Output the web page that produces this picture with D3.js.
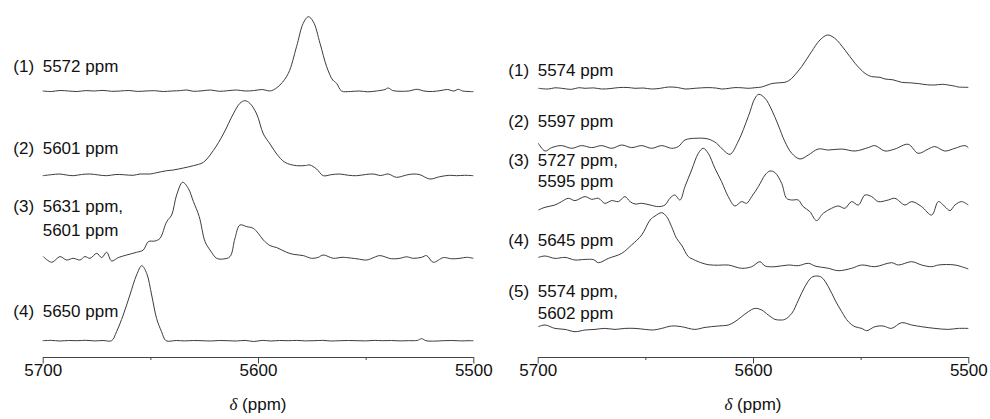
<!DOCTYPE html>
<html><head><meta charset="utf-8">
<script src="https://cdn.jsdelivr.net/npm/d3@7"></script>
<style>body{margin:0;background:#fff}svg{display:block}</style>
</head><body><svg id="c" width="990" height="419"></svg>
<script>
// ---------- DATA: [ppm, intensity (a.u.)] ----------
const traceL1 = [[5700,0],[5696,-0.5],[5692,0.5],[5688,0],[5684,-0.5],[5680,0.4],[5676,0],[5672,0.6],[5668,-0.3],[5664,0],[5660,0.5],[5656,-0.4],[5652,0],[5648,0.3],[5644,-0.5],[5640,0],[5636,0.4],[5633,1],[5630,-0.3],[5626,0.2],[5622,1],[5618,-0.3],[5614,0.3],[5610,1],[5606,0],[5602,0.4],[5598,1.5],[5595.5,0.3],[5593.7,0.3],[5589.8,6],[5585.9,17.7],[5582.1,44.3],[5579,67.7],[5576.6,74.3],[5574.3,69.3],[5571.2,47.7],[5568.1,24.3],[5565.3,11],[5563.5,7.7],[5561.2,0],[5557,-0.5],[5553,0],[5549,-0.8],[5545,0],[5541,1.5],[5539.5,3],[5537.5,0.5],[5534,-0.3],[5530,0],[5526,1.7],[5523,0],[5519,-0.5],[5515,0.5],[5512,1.5],[5509,0],[5507,1.7],[5505,0],[5502,-0.5],[5500,-0.7]];
const traceL2 = [[5700,-0.7],[5696,0.3],[5692,1],[5689,0],[5685.8,-0.7],[5682,0.5],[5678,1],[5674,0],[5670.3,-0.7],[5666,0.5],[5662.5,0.3],[5658,-0.3],[5654.8,1],[5650.1,1],[5647.1,2.3],[5642.4,4.3],[5639.3,5],[5634.7,7],[5630,9.3],[5625.4,12.7],[5620.8,24.3],[5616.1,41],[5611.5,61],[5608.4,71.7],[5606.1,74.3],[5603.8,71.7],[5600.6,61],[5597.5,41],[5594.4,31],[5591.3,21],[5587.5,12.7],[5582.1,9.3],[5578,9.5],[5575.9,10],[5572.8,6],[5569.7,-0.7],[5566,0.3],[5562,1],[5558,-0.3],[5554.2,-0.7],[5550,0.5],[5546.5,1],[5543,-0.5],[5539.5,1],[5535.7,-2.3],[5531,0],[5528,1],[5524.8,0.3],[5520.2,-4],[5515.6,-1.7],[5511,-0.3],[5507.8,-0.7],[5504,-0.3],[5500,-0.7]];
const traceL3 = [[5699.7,1.7],[5695.8,-4],[5692,1.7],[5688.9,-1.7],[5685.8,0],[5682.7,-1.7],[5680.4,1.7],[5678,0],[5674.9,5],[5672.6,0.7],[5670.3,6],[5668,-2.7],[5664.9,0.7],[5661,3.3],[5656.4,6],[5653.3,8.3],[5650.9,16.7],[5647.8,17.3],[5645.5,20],[5642.4,36.7],[5640.1,43.3],[5637.8,63.3],[5635,76],[5632.4,70],[5630,56.7],[5627.3,41.7],[5624.6,16.7],[5622.3,8.3],[5619.2,0],[5616.1,-0.7],[5613,1.7],[5610.7,20],[5608.4,33.3],[5605.3,31.7],[5602.2,30],[5599.9,25],[5597.5,18.3],[5594.4,12.7],[5591.3,10.7],[5586.7,6],[5583.6,4],[5579,2.7],[5575.1,0],[5572,1],[5569.7,3.3],[5565,0],[5561,1],[5558.8,0.7],[5554,-0.5],[5549.5,-1.7],[5546,1],[5543.4,2.7],[5538,-0.5],[5534.1,0],[5531,1.5],[5527.9,0],[5524,1],[5521.7,2.7],[5518.6,-4],[5513.9,0.7],[5510,-0.5],[5506.2,0],[5503,1],[5500,0]];
const traceL4 = [[5700,0],[5696,0.3],[5692,-0.3],[5688,0.2],[5684,0],[5680,0.4],[5676,-0.2],[5672,0.2],[5668,0],[5665.7,9],[5662.6,25.7],[5659.5,45.7],[5656.4,65.7],[5654,75],[5651.7,67.3],[5649.4,45.7],[5647.1,22.3],[5644.8,9],[5642.7,0],[5638,0.2],[5634,-0.2],[5630,0.2],[5626,0],[5622,-0.3],[5618,0.2],[5614,0],[5610,-0.3],[5606,0.3],[5602,-0.8],[5598,0.3],[5594,-0.3],[5590,0.2],[5586,0],[5582,0.3],[5578,-0.2],[5574,0],[5570,0.3],[5566,-0.3],[5562,0],[5558,0.2],[5554,0],[5550,-0.2],[5546,0.3],[5542,0],[5538,0.2],[5534,-0.2],[5530,0],[5526,0.3],[5524,2],[5522,0],[5518,-0.4],[5514,0],[5510,0.2],[5506,-0.2],[5502,0],[5500,0]];

const traceR1 = [[5699.7,0],[5695.1,-0.7],[5692,0.5],[5688.9,0],[5684.2,-1],[5681,0.6],[5678,0],[5674,0.4],[5670.3,-0.7],[5666,-0.2],[5662.5,0.7],[5658,0.8],[5654.8,0],[5651,0.3],[5647.1,-0.7],[5643,0],[5639.3,1.3],[5635,0.8],[5631.6,-0.7],[5627,0],[5620.8,0.7],[5617,0.2],[5614.6,-0.7],[5611,0],[5608.4,0.7],[5605,0.5],[5602.2,0],[5599,0.6],[5596,1.3],[5593,3.5],[5591.3,4.7],[5588,5.5],[5585.2,6],[5583.5,7.5],[5582,10],[5577.4,21.7],[5572.8,36.7],[5568.9,48.3],[5565.4,53.3],[5562,50],[5557.3,38.3],[5552.6,25],[5548,15],[5544.9,11.7],[5541,11],[5538.7,9.3],[5535,8.5],[5531,6],[5527,5.5],[5523.2,4.7],[5519,3.5],[5515.5,3.3],[5512,4],[5509.3,3.3],[5506,2],[5504.7,1.3],[5500,1]];
const traceR2 = [[5699.7,5],[5696.6,-2.7],[5693.5,0.7],[5688.9,2.7],[5684.2,0],[5679.6,2.7],[5674.9,0.7],[5670.3,2.7],[5665.6,0],[5661,3.3],[5656.4,0.7],[5651.7,2.7],[5647.1,0],[5642.4,2.7],[5637.8,0],[5634.7,1.7],[5631.6,8.3],[5627,10],[5620.8,9.3],[5616.9,5],[5613.8,-1.7],[5610.7,-6],[5606.9,6.7],[5602.2,31.7],[5599.1,50],[5597.3,54],[5594.4,50],[5591.3,38.3],[5588.3,23.3],[5585.2,6.7],[5582,-5],[5578.2,-10.7],[5574.3,-6.7],[5569.7,-0.7],[5565,-1.7],[5558.8,-0.7],[5552.6,-2.7],[5546.5,0.7],[5543.4,2.7],[5538.7,-2.7],[5534.1,-0.7],[5527.9,4],[5523.3,-5],[5518.6,-0.7],[5515.5,1.7],[5510.9,-2.7],[5506.2,0],[5501.6,2.7],[5500,0.7]];
const traceR3 = [[5699.7,-1.7],[5696.6,1],[5692,3.3],[5688.9,6.7],[5685.8,10],[5682.7,7.7],[5678,11.7],[5674.9,9],[5671.8,10],[5668.8,5],[5665.6,7.7],[5662.5,6.7],[5659.5,11.7],[5657.1,6.7],[5654.8,4.3],[5651.7,5],[5647.8,3.3],[5644,1.7],[5640.9,3.3],[5638.6,10],[5636.3,13.3],[5633.9,8.3],[5631.6,21.7],[5628.5,38.3],[5625.4,55],[5623.1,60],[5620.8,55],[5617.7,40],[5614.6,26.7],[5611.5,11.7],[5608.4,2.3],[5605.3,6.7],[5603,5],[5600.6,11.7],[5597.5,21.7],[5594.4,33.3],[5592.1,37.3],[5589.8,35.7],[5586.7,25],[5584.4,10],[5582.1,8.3],[5579,8.3],[5576.7,1.7],[5573.6,-3.3],[5570.5,-12.3],[5567.4,-5],[5563.5,0],[5560.4,2.3],[5557.3,0],[5554.2,6.7],[5551.1,3.3],[5548,13.3],[5544.9,11.7],[5541.8,6.7],[5537.2,8.3],[5534.1,10],[5529.4,3.3],[5526.3,6.7],[5521.7,1.7],[5517,-6.7],[5513.9,6.7],[5510.9,1.7],[5508.5,-2.3],[5506.2,3.3],[5503.1,6.7],[5500,3.3]];
const traceR4 = [[5699.7,-0.7],[5696.6,0.7],[5692,-1.7],[5687.3,-0.7],[5682.7,-3.3],[5678,-2.7],[5674,-3],[5671.8,-6],[5667.2,-1.7],[5661,3.3],[5656.4,11.7],[5651.7,21.7],[5647.8,36.7],[5645.5,40.7],[5642.4,44],[5640.1,40],[5637.8,30],[5635.5,18.3],[5633.2,11.7],[5630,0],[5627.7,-2.7],[5625.4,-5],[5620.8,-8],[5616,-8.5],[5611.5,-8.3],[5605.3,-11.6],[5600.6,-10],[5596.8,-5],[5594.4,-9.3],[5589.8,-10],[5583.6,-8.3],[5579,-9],[5574.3,-6.6],[5571.2,-9.3],[5565,-11.6],[5560.4,-14],[5554.2,-11.6],[5549.5,-8.3],[5543.4,-10],[5535.6,-6],[5532.5,-8.3],[5526.3,-5],[5521.7,-8.3],[5517,-10],[5513.9,-8.3],[5506.2,-8.3],[5500,-12.3]];
const traceR5 = [[5699.7,0],[5696.6,1.7],[5692,-1.7],[5687.3,-2.7],[5682.7,-5],[5678,-3.3],[5673.4,-2.7],[5668.8,-1.7],[5664.1,-2.7],[5659.5,-1.7],[5654.8,-1.7],[5650.1,-2.7],[5646.3,-3.3],[5642.4,-1.7],[5637.8,0.7],[5633.2,0],[5627,-2.7],[5622.3,-0.7],[5616.1,0.7],[5611.5,1.7],[5608.4,5],[5605.3,10],[5602.2,15],[5599.1,18.3],[5596,16.7],[5592.9,11.7],[5589.8,7.3],[5587.5,6.7],[5585.2,7.3],[5582,13.3],[5578.9,26.7],[5575.9,40],[5572.8,49.3],[5570.4,50.7],[5568.1,49.3],[5565,40],[5561.9,26.7],[5558.8,15],[5555.7,5],[5552.6,0],[5549.5,-1.7],[5547.2,-4],[5543.4,0],[5539.5,0.7],[5535.7,-1.7],[5531,4],[5526.3,1.7],[5521.7,0],[5515.5,-1.7],[5509.3,-2.7],[5504.7,-1.7],[5500,-1.7]];

const leftOffsets = [266, 182, 98.7, 16.3];
const rightOffsets = [268.7, 208.7, 148.7, 100.3, 30.3];
const leftLabels = [["(1)","5572 ppm"],["(2)","5601 ppm"],["(3)","5631 ppm,","5601 ppm"],["(4)","5650 ppm"]];
const rightLabels = [["(1)","5574 ppm"],["(2)","5597 ppm"],["(3)","5727 ppm,","5595 ppm"],["(4)","5645 ppm"],["(5)","5574 ppm,","5602 ppm"]];
const majorTicks = [5700, 5600, 5500];
const minorTicks = [5650, 5550];
const xDomain = [5700, 5500];

// ---------- LAYOUT ----------
const FONT = "'Liberation Sans', Arial, Helvetica, sans-serif";
const FS = 17;
const axisY = 357;
const panels = [
  {x0: 42.7, x1: 473.3, tagX: 13.3, traces: [traceL1, traceL2, traceL3, traceL4], offsets: leftOffsets, labels: leftLabels,
   labelY: [[71.7], [154], [212.3, 235.7], [316.7]]},
  {x0: 537.7, x1: 968.3, tagX: 508.3, traces: [traceR1, traceR2, traceR3, traceR4, traceR5], offsets: rightOffsets, labels: rightLabels,
   labelY: [[75.7], [126.7], [166, 186.7], [246], [296.7, 319.3]]}
];

const svg = d3.select("#c");
const y = d3.scaleLinear().domain([0, 350]).range([axisY, axisY - 350]);

panels.forEach(p => {
  const x = d3.scaleLinear().domain(xDomain).range([p.x0, p.x1]);
  const g = svg.append("g");
  p.traces.forEach((tr, i) => {
    const off = p.offsets[i];
    const line = d3.line().x(d => x(d[0])).y(d => y(off + d[1])).curve(d3.curveCatmullRom.alpha(0.5));
    g.append("path").datum(tr).attr("d", line).attr("fill", "none")
      .attr("stroke", "#3c3c3c").attr("stroke-width", 1).attr("stroke-linejoin", "round");
    const lab = p.labels[i];
    const ys = p.labelY[i];
    g.append("text").attr("x", p.tagX).attr("y", ys[0]).text(lab[0])
      .attr("font-family", FONT).attr("font-size", FS).attr("fill", "#111");
    lab.slice(1).forEach((t, k) => {
      g.append("text").attr("x", p.x0).attr("y", ys[k]).text(t)
        .attr("font-family", FONT).attr("font-size", FS).attr("fill", "#111");
    });
  });
  // axis
  const ax = svg.append("g").attr("transform", `translate(0,${axisY})`)
    .call(d3.axisBottom(x).tickValues(majorTicks).tickSize(6.5).tickSizeOuter(0).tickFormat(d3.format("d")));
  ax.select(".domain").attr("stroke", "#444").attr("stroke-width", 1);
  ax.selectAll(".tick line").attr("stroke", "#444").attr("stroke-width", 1);
  ax.selectAll(".tick text").attr("y", 18.7).attr("dy", null)
    .attr("font-family", FONT).attr("font-size", FS).attr("fill", "#111");
  const ax2 = svg.append("g").attr("transform", `translate(0,${axisY})`)
    .call(d3.axisBottom(x).tickValues(minorTicks).tickSize(3).tickSizeOuter(0).tickFormat(""));
  ax2.select(".domain").remove();
  ax2.selectAll(".tick line").attr("stroke", "#444").attr("stroke-width", 1);
  const title = svg.append("text").attr("x", (p.x0 + p.x1) / 2).attr("y", 410).attr("text-anchor", "middle")
    .attr("font-family", FONT).attr("font-size", FS).attr("fill", "#111");
  title.append("tspan").attr("font-family", "'Liberation Serif', 'DejaVu Serif', serif").attr("font-style", "italic").text("δ");
  title.append("tspan").text(" (ppm)");
});
</script>
</body></html>
